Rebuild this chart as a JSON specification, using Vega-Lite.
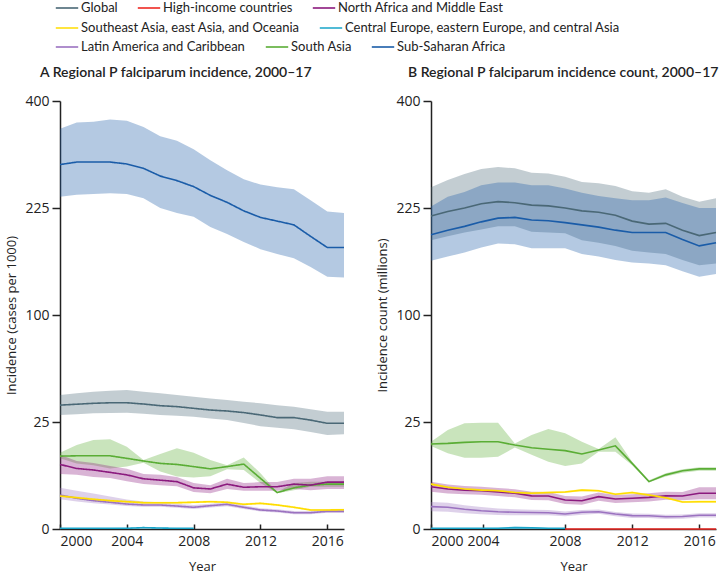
{
  "$schema": "https://vega.github.io/schema/vega-lite/v6.json",
  "padding": {"left": 5, "top": 0, "right": 0, "bottom": 0},
  "background": "white",
  "config": {
    "font": "Open Sans",
    "view": {"stroke": null},
    "axis": {"labelFont": "Open Sans", "titleFont": "Open Sans", "labelFontSize": 14, "titleFontSize": 13, "labelColor": "#222", "titleColor": "#222", "titleFontWeight": "normal", "domainColor": "#222", "tickColor": "#222", "domainWidth": 1.5, "tickWidth": 1.5, "grid": false},
    "legend": {"title": null, "labelFont": "Lato", "labelFontSize": 13, "labelColor": "#222", "symbolType": "M-1.6,0H1.6", "symbolSize": 196, "symbolStrokeWidth": 1.6, "labelLimit": 400, "labelOffset": 6, "columnPadding": 16, "rowPadding": 6, "direction": "horizontal"},
    "title": {"font": "Lato", "fontSize": 14, "fontWeight": 600, "color": "#222", "anchor": "start"}
  },
  "datasets": {
    "rows": [
      {"panel":"A","region":"Sub-Saharan Africa","year":2000,"value":290,"lower":241,"upper":350},
      {"panel":"A","region":"Sub-Saharan Africa","year":2001,"value":294,"lower":244,"upper":361},
      {"panel":"A","region":"Sub-Saharan Africa","year":2002,"value":294,"lower":245,"upper":362},
      {"panel":"A","region":"Sub-Saharan Africa","year":2003,"value":294,"lower":246,"upper":366},
      {"panel":"A","region":"Sub-Saharan Africa","year":2004,"value":291,"lower":245,"upper":364},
      {"panel":"A","region":"Sub-Saharan Africa","year":2005,"value":284,"lower":239,"upper":353},
      {"panel":"A","region":"Sub-Saharan Africa","year":2006,"value":272,"lower":225,"upper":337},
      {"panel":"A","region":"Sub-Saharan Africa","year":2007,"value":265,"lower":218,"upper":329},
      {"panel":"A","region":"Sub-Saharan Africa","year":2008,"value":256,"lower":213,"upper":315},
      {"panel":"A","region":"Sub-Saharan Africa","year":2009,"value":243,"lower":199,"upper":297},
      {"panel":"A","region":"Sub-Saharan Africa","year":2010,"value":233,"lower":190,"upper":281},
      {"panel":"A","region":"Sub-Saharan Africa","year":2011,"value":221,"lower":180,"upper":267},
      {"panel":"A","region":"Sub-Saharan Africa","year":2012,"value":212,"lower":171,"upper":259},
      {"panel":"A","region":"Sub-Saharan Africa","year":2013,"value":207,"lower":165,"upper":255},
      {"panel":"A","region":"Sub-Saharan Africa","year":2014,"value":202,"lower":160,"upper":252},
      {"panel":"A","region":"Sub-Saharan Africa","year":2015,"value":187,"lower":150,"upper":236},
      {"panel":"A","region":"Sub-Saharan Africa","year":2016,"value":173,"lower":139,"upper":220},
      {"panel":"A","region":"Sub-Saharan Africa","year":2017,"value":173,"lower":138,"upper":218},

      {"panel":"A","region":"Global","year":2000,"value":33.5,"lower":28.4,"upper":39.2},
      {"panel":"A","region":"Global","year":2001,"value":34.0,"lower":28.8,"upper":40.2},
      {"panel":"A","region":"Global","year":2002,"value":34.5,"lower":29.2,"upper":41.2},
      {"panel":"A","region":"Global","year":2003,"value":34.8,"lower":29.4,"upper":41.8},
      {"panel":"A","region":"Global","year":2004,"value":34.8,"lower":29.5,"upper":42.2},
      {"panel":"A","region":"Global","year":2005,"value":34.1,"lower":29.0,"upper":41.2},
      {"panel":"A","region":"Global","year":2006,"value":33.2,"lower":28.4,"upper":40.2},
      {"panel":"A","region":"Global","year":2007,"value":32.7,"lower":28.0,"upper":39.2},
      {"panel":"A","region":"Global","year":2008,"value":31.8,"lower":27.5,"upper":38.2},
      {"panel":"A","region":"Global","year":2009,"value":30.9,"lower":26.7,"upper":37.2},
      {"panel":"A","region":"Global","year":2010,"value":30.4,"lower":25.9,"upper":36.3},
      {"panel":"A","region":"Global","year":2011,"value":29.6,"lower":24.5,"upper":35.4},
      {"panel":"A","region":"Global","year":2012,"value":28.4,"lower":23.1,"upper":34.5},
      {"panel":"A","region":"Global","year":2013,"value":27.1,"lower":22.4,"upper":33.5},
      {"panel":"A","region":"Global","year":2014,"value":27.1,"lower":21.7,"upper":32.6},
      {"panel":"A","region":"Global","year":2015,"value":25.9,"lower":20.5,"upper":31.3},
      {"panel":"A","region":"Global","year":2016,"value":24.4,"lower":19.3,"upper":30.0},
      {"panel":"A","region":"Global","year":2017,"value":24.4,"lower":19.6,"upper":30.0},

      {"panel":"A","region":"South Asia","year":2000,"value":11.6,"lower":10.9,"upper":12.7},
      {"panel":"A","region":"South Asia","year":2001,"value":11.7,"lower":9.4,"upper":15.4},
      {"panel":"A","region":"South Asia","year":2002,"value":11.7,"lower":8.9,"upper":17.3},
      {"panel":"A","region":"South Asia","year":2003,"value":11.7,"lower":8.0,"upper":17.6},
      {"panel":"A","region":"South Asia","year":2004,"value":10.9,"lower":8.5,"upper":14.8},
      {"panel":"A","region":"South Asia","year":2005,"value":10.1,"lower":9.6,"upper":10.4},
      {"panel":"A","region":"South Asia","year":2006,"value":9.4,"lower":7.2,"upper":12.3},
      {"panel":"A","region":"South Asia","year":2007,"value":9.1,"lower":6.0,"upper":14.2},
      {"panel":"A","region":"South Asia","year":2008,"value":8.5,"lower":5.8,"upper":12.7},
      {"panel":"A","region":"South Asia","year":2009,"value":7.9,"lower":6.1,"upper":10.4},
      {"panel":"A","region":"South Asia","year":2010,"value":8.5,"lower":7.8,"upper":8.9},
      {"panel":"A","region":"South Asia","year":2011,"value":9.2,"lower":7.6,"upper":11.2},
      {"panel":"A","region":"South Asia","year":2012,"value":5.6,"lower":4.6,"upper":6.8},
      {"panel":"A","region":"South Asia","year":2013,"value":2.9,"lower":2.8,"upper":3.0},
      {"panel":"A","region":"South Asia","year":2014,"value":3.7,"lower":3.3,"upper":4.6},
      {"panel":"A","region":"South Asia","year":2015,"value":4.2,"lower":3.9,"upper":4.9},
      {"panel":"A","region":"South Asia","year":2016,"value":4.4,"lower":3.9,"upper":4.9},
      {"panel":"A","region":"South Asia","year":2017,"value":4.4,"lower":3.9,"upper":4.9},

      {"panel":"A","region":"North Africa and Middle East","year":2000,"value":9.1,"lower":6.6,"upper":12.0},
      {"panel":"A","region":"North Africa and Middle East","year":2001,"value":8.0,"lower":6.4,"upper":10.1},
      {"panel":"A","region":"North Africa and Middle East","year":2002,"value":7.6,"lower":5.9,"upper":9.5},
      {"panel":"A","region":"North Africa and Middle East","year":2003,"value":7.0,"lower":5.7,"upper":8.7},
      {"panel":"A","region":"North Africa and Middle East","year":2004,"value":6.4,"lower":5.0,"upper":7.9},
      {"panel":"A","region":"North Africa and Middle East","year":2005,"value":5.5,"lower":4.4,"upper":6.6},
      {"panel":"A","region":"North Africa and Middle East","year":2006,"value":5.2,"lower":4.2,"upper":6.4},
      {"panel":"A","region":"North Africa and Middle East","year":2007,"value":4.9,"lower":4.0,"upper":5.9},
      {"panel":"A","region":"North Africa and Middle East","year":2008,"value":3.7,"lower":3.0,"upper":4.6},
      {"panel":"A","region":"North Africa and Middle East","year":2009,"value":3.5,"lower":2.8,"upper":4.2},
      {"panel":"A","region":"North Africa and Middle East","year":2010,"value":4.4,"lower":3.5,"upper":5.5},
      {"panel":"A","region":"North Africa and Middle East","year":2011,"value":3.8,"lower":3.2,"upper":4.6},
      {"panel":"A","region":"North Africa and Middle East","year":2012,"value":3.9,"lower":3.2,"upper":4.8},
      {"panel":"A","region":"North Africa and Middle East","year":2013,"value":3.9,"lower":3.2,"upper":4.8},
      {"panel":"A","region":"North Africa and Middle East","year":2014,"value":4.4,"lower":3.5,"upper":5.5},
      {"panel":"A","region":"North Africa and Middle East","year":2015,"value":4.2,"lower":3.3,"upper":5.5},
      {"panel":"A","region":"North Africa and Middle East","year":2016,"value":4.8,"lower":3.5,"upper":6.1},
      {"panel":"A","region":"North Africa and Middle East","year":2017,"value":4.8,"lower":3.5,"upper":6.1},

      {"panel":"A","region":"Latin America and Caribbean","year":2000,"value":2.52,"lower":1.93,"upper":3.70},
      {"panel":"A","region":"Latin America and Caribbean","year":2001,"value":2.06,"lower":1.65,"upper":3.20},
      {"panel":"A","region":"Latin America and Caribbean","year":2002,"value":1.75,"lower":1.45,"upper":2.75},
      {"panel":"A","region":"Latin America and Caribbean","year":2003,"value":1.56,"lower":1.30,"upper":2.30},
      {"panel":"A","region":"Latin America and Caribbean","year":2004,"value":1.36,"lower":1.15,"upper":1.90},
      {"panel":"A","region":"Latin America and Caribbean","year":2005,"value":1.26,"lower":1.08,"upper":1.65},
      {"panel":"A","region":"Latin America and Caribbean","year":2006,"value":1.26,"lower":1.08,"upper":1.55},
      {"panel":"A","region":"Latin America and Caribbean","year":2007,"value":1.15,"lower":0.99,"upper":1.40},
      {"panel":"A","region":"Latin America and Caribbean","year":2008,"value":1.03,"lower":0.88,"upper":1.25},
      {"panel":"A","region":"Latin America and Caribbean","year":2009,"value":1.19,"lower":1.02,"upper":1.40},
      {"panel":"A","region":"Latin America and Caribbean","year":2010,"value":1.33,"lower":1.14,"upper":1.55},
      {"panel":"A","region":"Latin America and Caribbean","year":2011,"value":1.03,"lower":0.88,"upper":1.22},
      {"panel":"A","region":"Latin America and Caribbean","year":2012,"value":0.79,"lower":0.67,"upper":0.95},
      {"panel":"A","region":"Latin America and Caribbean","year":2013,"value":0.71,"lower":0.60,"upper":0.85},
      {"panel":"A","region":"Latin America and Caribbean","year":2014,"value":0.58,"lower":0.48,"upper":0.70},
      {"panel":"A","region":"Latin America and Caribbean","year":2015,"value":0.58,"lower":0.48,"upper":0.70},
      {"panel":"A","region":"Latin America and Caribbean","year":2016,"value":0.68,"lower":0.57,"upper":0.81},
      {"panel":"A","region":"Latin America and Caribbean","year":2017,"value":0.68,"lower":0.57,"upper":0.81},

      {"panel":"A","region":"Southeast Asia, east Asia, and Oceania","year":2000,"value":2.38,"lower":2.22,"upper":2.53},
      {"panel":"A","region":"Southeast Asia, east Asia, and Oceania","year":2001,"value":2.14,"lower":2.00,"upper":2.29},
      {"panel":"A","region":"Southeast Asia, east Asia, and Oceania","year":2002,"value":1.93,"lower":1.80,"upper":2.07},
      {"panel":"A","region":"Southeast Asia, east Asia, and Oceania","year":2003,"value":1.75,"lower":1.62,"upper":1.88},
      {"panel":"A","region":"Southeast Asia, east Asia, and Oceania","year":2004,"value":1.63,"lower":1.51,"upper":1.76},
      {"panel":"A","region":"Southeast Asia, east Asia, and Oceania","year":2005,"value":1.51,"lower":1.39,"upper":1.63},
      {"panel":"A","region":"Southeast Asia, east Asia, and Oceania","year":2006,"value":1.51,"lower":1.39,"upper":1.63},
      {"panel":"A","region":"Southeast Asia, east Asia, and Oceania","year":2007,"value":1.51,"lower":1.39,"upper":1.63},
      {"panel":"A","region":"Southeast Asia, east Asia, and Oceania","year":2008,"value":1.56,"lower":1.44,"upper":1.68},
      {"panel":"A","region":"Southeast Asia, east Asia, and Oceania","year":2009,"value":1.63,"lower":1.51,"upper":1.76},
      {"panel":"A","region":"Southeast Asia, east Asia, and Oceania","year":2010,"value":1.56,"lower":1.44,"upper":1.68},
      {"panel":"A","region":"Southeast Asia, east Asia, and Oceania","year":2011,"value":1.33,"lower":1.22,"upper":1.45},
      {"panel":"A","region":"Southeast Asia, east Asia, and Oceania","year":2012,"value":1.44,"lower":1.32,"upper":1.56},
      {"panel":"A","region":"Southeast Asia, east Asia, and Oceania","year":2013,"value":1.26,"lower":1.15,"upper":1.37},
      {"panel":"A","region":"Southeast Asia, east Asia, and Oceania","year":2014,"value":1.03,"lower":0.93,"upper":1.13},
      {"panel":"A","region":"Southeast Asia, east Asia, and Oceania","year":2015,"value":0.79,"lower":0.70,"upper":0.88},
      {"panel":"A","region":"Southeast Asia, east Asia, and Oceania","year":2016,"value":0.79,"lower":0.70,"upper":0.88},
      {"panel":"A","region":"Southeast Asia, east Asia, and Oceania","year":2017,"value":0.81,"lower":0.72,"upper":0.90},

      {"panel":"A","region":"Central Europe, eastern Europe, and central Asia","year":2000,"value":0.001,"lower":0,"upper":0.002},
      {"panel":"A","region":"Central Europe, eastern Europe, and central Asia","year":2001,"value":0.001,"lower":0,"upper":0.002},
      {"panel":"A","region":"Central Europe, eastern Europe, and central Asia","year":2002,"value":0.001,"lower":0,"upper":0.002},
      {"panel":"A","region":"Central Europe, eastern Europe, and central Asia","year":2003,"value":0.001,"lower":0,"upper":0.002},
      {"panel":"A","region":"Central Europe, eastern Europe, and central Asia","year":2004,"value":0.001,"lower":0,"upper":0.003},
      {"panel":"A","region":"Central Europe, eastern Europe, and central Asia","year":2005,"value":0.004,"lower":0.001,"upper":0.012},
      {"panel":"A","region":"Central Europe, eastern Europe, and central Asia","year":2006,"value":0.002,"lower":0,"upper":0.005},
      {"panel":"A","region":"Central Europe, eastern Europe, and central Asia","year":2007,"value":0.001,"lower":0,"upper":0.002},
      {"panel":"A","region":"Central Europe, eastern Europe, and central Asia","year":2008,"value":0.001,"lower":0,"upper":0.002},

      {"panel":"B","region":"Global","year":2000,"value":214,"lower":182,"upper":255},
      {"panel":"B","region":"Global","year":2001,"value":220,"lower":187,"upper":266},
      {"panel":"B","region":"Global","year":2002,"value":225,"lower":192,"upper":275},
      {"panel":"B","region":"Global","year":2003,"value":231,"lower":196,"upper":283},
      {"panel":"B","region":"Global","year":2004,"value":234,"lower":200,"upper":286},
      {"panel":"B","region":"Global","year":2005,"value":232.5,"lower":200,"upper":284},
      {"panel":"B","region":"Global","year":2006,"value":229,"lower":193,"upper":277},
      {"panel":"B","region":"Global","year":2007,"value":228,"lower":192,"upper":276},
      {"panel":"B","region":"Global","year":2008,"value":225,"lower":191,"upper":271},
      {"panel":"B","region":"Global","year":2009,"value":221,"lower":182,"upper":263},
      {"panel":"B","region":"Global","year":2010,"value":219,"lower":179,"upper":261},
      {"panel":"B","region":"Global","year":2011,"value":215,"lower":175,"upper":257},
      {"panel":"B","region":"Global","year":2012,"value":207,"lower":169,"upper":249},
      {"panel":"B","region":"Global","year":2013,"value":203,"lower":167,"upper":247},
      {"panel":"B","region":"Global","year":2014,"value":204,"lower":165,"upper":252},
      {"panel":"B","region":"Global","year":2015,"value":195,"lower":158,"upper":241},
      {"panel":"B","region":"Global","year":2016,"value":188,"lower":152,"upper":234},
      {"panel":"B","region":"Global","year":2017,"value":192,"lower":154,"upper":239},

      {"panel":"B","region":"Sub-Saharan Africa","year":2000,"value":189,"lower":157,"upper":227},
      {"panel":"B","region":"Sub-Saharan Africa","year":2001,"value":195,"lower":162,"upper":241},
      {"panel":"B","region":"Sub-Saharan Africa","year":2002,"value":200,"lower":167,"upper":248},
      {"panel":"B","region":"Sub-Saharan Africa","year":2003,"value":206,"lower":173,"upper":258},
      {"panel":"B","region":"Sub-Saharan Africa","year":2004,"value":211,"lower":178,"upper":262},
      {"panel":"B","region":"Sub-Saharan Africa","year":2005,"value":212,"lower":177,"upper":262},
      {"panel":"B","region":"Sub-Saharan Africa","year":2006,"value":208.5,"lower":172,"upper":258},
      {"panel":"B","region":"Sub-Saharan Africa","year":2007,"value":207.5,"lower":172,"upper":258},
      {"panel":"B","region":"Sub-Saharan Africa","year":2008,"value":205,"lower":172,"upper":253},
      {"panel":"B","region":"Sub-Saharan Africa","year":2009,"value":202,"lower":165,"upper":247},
      {"panel":"B","region":"Sub-Saharan Africa","year":2010,"value":199,"lower":162,"upper":242},
      {"panel":"B","region":"Sub-Saharan Africa","year":2011,"value":195,"lower":158,"upper":239},
      {"panel":"B","region":"Sub-Saharan Africa","year":2012,"value":192,"lower":155,"upper":236},
      {"panel":"B","region":"Sub-Saharan Africa","year":2013,"value":192,"lower":154,"upper":236},
      {"panel":"B","region":"Sub-Saharan Africa","year":2014,"value":192,"lower":152,"upper":240},
      {"panel":"B","region":"Sub-Saharan Africa","year":2015,"value":183,"lower":145,"upper":232},
      {"panel":"B","region":"Sub-Saharan Africa","year":2016,"value":175,"lower":139,"upper":225},
      {"panel":"B","region":"Sub-Saharan Africa","year":2017,"value":179,"lower":142,"upper":225},

      {"panel":"B","region":"South Asia","year":2000,"value":15.8,"lower":15.0,"upper":16.6},
      {"panel":"B","region":"South Asia","year":2001,"value":16.0,"lower":12.5,"upper":21.4},
      {"panel":"B","region":"South Asia","year":2002,"value":16.4,"lower":11.1,"upper":24.4},
      {"panel":"B","region":"South Asia","year":2003,"value":16.6,"lower":11.1,"upper":24.7},
      {"panel":"B","region":"South Asia","year":2004,"value":16.6,"lower":11.4,"upper":24.7},
      {"panel":"B","region":"South Asia","year":2005,"value":15.4,"lower":14.5,"upper":16.0},
      {"panel":"B","region":"South Asia","year":2006,"value":14.4,"lower":12.0,"upper":19.3},
      {"panel":"B","region":"South Asia","year":2007,"value":13.9,"lower":9.9,"upper":21.8},
      {"panel":"B","region":"South Asia","year":2008,"value":13.4,"lower":8.7,"upper":20.0},
      {"panel":"B","region":"South Asia","year":2009,"value":12.3,"lower":9.4,"upper":16.6},
      {"panel":"B","region":"South Asia","year":2010,"value":13.6,"lower":13.0,"upper":14.0},
      {"panel":"B","region":"South Asia","year":2011,"value":15.1,"lower":13.0,"upper":18.4},
      {"panel":"B","region":"South Asia","year":2012,"value":9.4,"lower":8.9,"upper":9.9},
      {"panel":"B","region":"South Asia","year":2013,"value":4.9,"lower":4.7,"upper":5.2},
      {"panel":"B","region":"South Asia","year":2014,"value":6.4,"lower":6.0,"upper":6.8},
      {"panel":"B","region":"South Asia","year":2015,"value":7.4,"lower":6.9,"upper":7.8},
      {"panel":"B","region":"South Asia","year":2016,"value":7.9,"lower":7.4,"upper":8.3},
      {"panel":"B","region":"South Asia","year":2017,"value":7.9,"lower":7.4,"upper":8.3},

      {"panel":"B","region":"North Africa and Middle East","year":2000,"value":3.9,"lower":3.04,"upper":4.86},
      {"panel":"B","region":"North Africa and Middle East","year":2001,"value":3.5,"lower":2.76,"upper":4.34},
      {"panel":"B","region":"North Africa and Middle East","year":2002,"value":3.3,"lower":2.65,"upper":4.03},
      {"panel":"B","region":"North Africa and Middle East","year":2003,"value":3.2,"lower":2.56,"upper":3.92},
      {"panel":"B","region":"North Africa and Middle East","year":2004,"value":3.0,"lower":2.38,"upper":3.69},
      {"panel":"B","region":"North Africa and Middle East","year":2005,"value":2.8,"lower":2.20,"upper":3.47},
      {"panel":"B","region":"North Africa and Middle East","year":2006,"value":2.4,"lower":1.85,"upper":3.02},
      {"panel":"B","region":"North Africa and Middle East","year":2007,"value":2.38,"lower":1.82,"upper":3.0},
      {"panel":"B","region":"North Africa and Middle East","year":2008,"value":1.84,"lower":1.36,"upper":2.39},
      {"panel":"B","region":"North Africa and Middle East","year":2009,"value":1.75,"lower":1.28,"upper":2.29},
      {"panel":"B","region":"North Africa and Middle East","year":2010,"value":2.28,"lower":1.74,"upper":2.89},
      {"panel":"B","region":"North Africa and Middle East","year":2011,"value":1.97,"lower":1.47,"upper":2.54},
      {"panel":"B","region":"North Africa and Middle East","year":2012,"value":2.06,"lower":1.55,"upper":2.64},
      {"panel":"B","region":"North Africa and Middle East","year":2013,"value":2.19,"lower":1.66,"upper":2.79},
      {"panel":"B","region":"North Africa and Middle East","year":2014,"value":2.42,"lower":1.87,"upper":3.05},
      {"panel":"B","region":"North Africa and Middle East","year":2015,"value":2.38,"lower":1.82,"upper":3.0},
      {"panel":"B","region":"North Africa and Middle East","year":2016,"value":2.78,"lower":1.92,"upper":3.79},
      {"panel":"B","region":"North Africa and Middle East","year":2017,"value":2.78,"lower":1.92,"upper":3.79},

      {"panel":"B","region":"Southeast Asia, east Asia, and Oceania","year":2000,"value":4.4,"lower":4.19,"upper":4.61},
      {"panel":"B","region":"Southeast Asia, east Asia, and Oceania","year":2001,"value":3.8,"lower":3.61,"upper":4.00},
      {"panel":"B","region":"Southeast Asia, east Asia, and Oceania","year":2002,"value":3.5,"lower":3.32,"upper":3.69},
      {"panel":"B","region":"Southeast Asia, east Asia, and Oceania","year":2003,"value":3.3,"lower":3.12,"upper":3.48},
      {"panel":"B","region":"Southeast Asia, east Asia, and Oceania","year":2004,"value":3.2,"lower":3.03,"upper":3.38},
      {"panel":"B","region":"Southeast Asia, east Asia, and Oceania","year":2005,"value":2.9,"lower":2.73,"upper":3.07},
      {"panel":"B","region":"Southeast Asia, east Asia, and Oceania","year":2006,"value":2.8,"lower":2.64,"upper":2.97},
      {"panel":"B","region":"Southeast Asia, east Asia, and Oceania","year":2007,"value":2.9,"lower":2.73,"upper":3.07},
      {"panel":"B","region":"Southeast Asia, east Asia, and Oceania","year":2008,"value":3.0,"lower":2.83,"upper":3.17},
      {"panel":"B","region":"Southeast Asia, east Asia, and Oceania","year":2009,"value":3.3,"lower":3.12,"upper":3.48},
      {"panel":"B","region":"Southeast Asia, east Asia, and Oceania","year":2010,"value":3.2,"lower":3.03,"upper":3.38},
      {"panel":"B","region":"Southeast Asia, east Asia, and Oceania","year":2011,"value":2.63,"lower":2.47,"upper":2.79},
      {"panel":"B","region":"Southeast Asia, east Asia, and Oceania","year":2012,"value":2.9,"lower":2.73,"upper":3.07},
      {"panel":"B","region":"Southeast Asia, east Asia, and Oceania","year":2013,"value":2.52,"lower":2.36,"upper":2.68},
      {"panel":"B","region":"Southeast Asia, east Asia, and Oceania","year":2014,"value":2.14,"lower":2.00,"upper":2.29},
      {"panel":"B","region":"Southeast Asia, east Asia, and Oceania","year":2015,"value":1.59,"lower":1.47,"upper":1.72},
      {"panel":"B","region":"Southeast Asia, east Asia, and Oceania","year":2016,"value":1.63,"lower":1.50,"upper":1.76},
      {"panel":"B","region":"Southeast Asia, east Asia, and Oceania","year":2017,"value":1.63,"lower":1.50,"upper":1.76},

      {"panel":"B","region":"Latin America and Caribbean","year":2000,"value":1.09,"lower":0.68,"upper":1.60},
      {"panel":"B","region":"Latin America and Caribbean","year":2001,"value":1.03,"lower":0.65,"upper":1.50},
      {"panel":"B","region":"Latin America and Caribbean","year":2002,"value":0.85,"lower":0.54,"upper":1.24},
      {"panel":"B","region":"Latin America and Caribbean","year":2003,"value":0.73,"lower":0.47,"upper":1.05},
      {"panel":"B","region":"Latin America and Caribbean","year":2004,"value":0.65,"lower":0.43,"upper":0.91},
      {"panel":"B","region":"Latin America and Caribbean","year":2005,"value":0.61,"lower":0.41,"upper":0.85},
      {"panel":"B","region":"Latin America and Caribbean","year":2006,"value":0.59,"lower":0.41,"upper":0.81},
      {"panel":"B","region":"Latin America and Caribbean","year":2007,"value":0.58,"lower":0.41,"upper":0.78},
      {"panel":"B","region":"Latin America and Caribbean","year":2008,"value":0.49,"lower":0.35,"upper":0.66},
      {"panel":"B","region":"Latin America and Caribbean","year":2009,"value":0.61,"lower":0.45,"upper":0.79},
      {"panel":"B","region":"Latin America and Caribbean","year":2010,"value":0.65,"lower":0.50,"upper":0.82},
      {"panel":"B","region":"Latin America and Caribbean","year":2011,"value":0.49,"lower":0.36,"upper":0.64},
      {"panel":"B","region":"Latin America and Caribbean","year":2012,"value":0.39,"lower":0.27,"upper":0.52},
      {"panel":"B","region":"Latin America and Caribbean","year":2013,"value":0.38,"lower":0.27,"upper":0.51},
      {"panel":"B","region":"Latin America and Caribbean","year":2014,"value":0.33,"lower":0.22,"upper":0.45},
      {"panel":"B","region":"Latin America and Caribbean","year":2015,"value":0.34,"lower":0.23,"upper":0.46},
      {"panel":"B","region":"Latin America and Caribbean","year":2016,"value":0.41,"lower":0.29,"upper":0.55},
      {"panel":"B","region":"Latin America and Caribbean","year":2017,"value":0.41,"lower":0.29,"upper":0.55},

      {"panel":"B","region":"Central Europe, eastern Europe, and central Asia","year":2000,"value":0.001,"lower":0,"upper":0.002},
      {"panel":"B","region":"Central Europe, eastern Europe, and central Asia","year":2001,"value":0.001,"lower":0,"upper":0.002},
      {"panel":"B","region":"Central Europe, eastern Europe, and central Asia","year":2002,"value":0.001,"lower":0,"upper":0.002},
      {"panel":"B","region":"Central Europe, eastern Europe, and central Asia","year":2003,"value":0.001,"lower":0,"upper":0.002},
      {"panel":"B","region":"Central Europe, eastern Europe, and central Asia","year":2004,"value":0.001,"lower":0,"upper":0.003},
      {"panel":"B","region":"Central Europe, eastern Europe, and central Asia","year":2005,"value":0.004,"lower":0.001,"upper":0.010},
      {"panel":"B","region":"Central Europe, eastern Europe, and central Asia","year":2006,"value":0.003,"lower":0.001,"upper":0.008},
      {"panel":"B","region":"Central Europe, eastern Europe, and central Asia","year":2007,"value":0.001,"lower":0,"upper":0.002},
      {"panel":"B","region":"Central Europe, eastern Europe, and central Asia","year":2008,"value":0.001,"lower":0,"upper":0.002},

      {"panel":"B","region":"High-income countries","year":2008,"value":0,"lower":0,"upper":0},
      {"panel":"B","region":"High-income countries","year":2010,"value":0,"lower":0,"upper":0},
      {"panel":"B","region":"High-income countries","year":2012,"value":0,"lower":0,"upper":0},
      {"panel":"B","region":"High-income countries","year":2014,"value":0,"lower":0,"upper":0},
      {"panel":"B","region":"High-income countries","year":2016,"value":0,"lower":0,"upper":0},
      {"panel":"B","region":"High-income countries","year":2017,"value":0,"lower":0,"upper":0}
    ]
  },
  "data": {"name": "rows"},
  "spacing": 28,
  "resolve": {"scale": {"color": "shared", "fill": "shared", "strokeDash": "shared"}, "legend": {"color": "shared", "fill": "shared", "strokeDash": "shared"}},
  "hconcat": [
    {
      "width": 284,
      "height": 428,
      "title": {"text": "A  Regional P falciparum incidence, 2000–17", "frame": "group", "dx": -20, "offset": 14},
      "transform": [{"filter": "datum.panel === 'A'"}],
      "layer": [
        {
          "mark": {"type": "area", "fillOpacity": 0.33, "strokeWidth": 0},
          "encoding": {
            "x": {"field": "year", "type": "quantitative", "scale": {"domain": [2000, 2017], "nice": false},
                  "axis": {"title": "Year", "values": [2000, 2004, 2008, 2012, 2016], "format": "d", "ticks": true, "tickSize": -5, "labelPadding": 10, "titlePadding": 12}},
            "y": {"field": "lower", "type": "quantitative", "scale": {"type": "sqrt", "domain": [0, 400], "nice": false},
                  "axis": {"title": "Incidence (cases per 1000)", "values": [0, 25, 100, 225, 400], "tickSize": 8, "labelPadding": 3, "titlePadding": 6}},
            "y2": {"field": "upper"},
            "fill": {"field": "region", "type": "nominal",
                     "scale": {"domain": ["Sub-Saharan Africa", "South Asia", "Latin America and Caribbean", "Central Europe, eastern Europe, and central Asia", "Southeast Asia, east Asia, and Oceania", "North Africa and Middle East", "High-income countries", "Global"],
                               "range": ["#1a5ca8", "#5aad35", "#9b72c0", "#19a5c9", "#ffdd00", "#8b1a7e", "#ee2a24", "#4a6876"]},
                     "legend": {"orient": "none", "legendX": -1, "legendY": -62,
                                "values": ["Latin America and Caribbean", "South Asia", "Sub-Saharan Africa"],
                                "encode": {"symbols": {"update": {"stroke": {"scale": "fill", "field": "value"}, "strokeWidth": {"value": 1.6}, "opacity": {"value": 1}, "strokeOpacity": {"value": 1}, "fillOpacity": {"value": 0}}}}}}
          }
        },
        {
          "mark": {"type": "line", "strokeWidth": 1.6},
          "encoding": {
            "x": {"field": "year", "type": "quantitative"},
            "y": {"field": "value", "type": "quantitative"},
            "color": {"field": "region", "type": "nominal",
                      "scale": {"domain": ["Global", "High-income countries", "North Africa and Middle East", "Southeast Asia, east Asia, and Oceania", "Central Europe, eastern Europe, and central Asia", "Latin America and Caribbean", "South Asia", "Sub-Saharan Africa"],
                                "range": ["#4a6876", "#ee2a24", "#8b1a7e", "#ffdd00", "#19a5c9", "#9b72c0", "#5aad35", "#1a5ca8"]},
                      "legend": {"orient": "none", "legendX": -1, "legendY": -101,
                                 "values": ["Global", "High-income countries", "North Africa and Middle East"]}},
            "strokeDash": {"field": "region", "type": "nominal",
                           "scale": {"domain": ["Central Europe, eastern Europe, and central Asia", "Southeast Asia, east Asia, and Oceania", "Global", "High-income countries", "North Africa and Middle East", "Latin America and Caribbean", "South Asia", "Sub-Saharan Africa"],
                                     "range": [[1, 0], [1, 0], [1, 0], [1, 0], [1, 0], [1, 0], [1, 0], [1, 0]]},
                           "legend": {"orient": "none", "legendX": -1, "legendY": -81,
                                      "values": ["Southeast Asia, east Asia, and Oceania", "Central Europe, eastern Europe, and central Asia"],
                                      "encode": {"symbols": {"update": {"stroke": {"scale": "color", "field": "value"}, "strokeWidth": {"value": 1.6}, "strokeDash": {"value": [1, 0]}, "opacity": {"value": 1}, "strokeOpacity": {"value": 1}}}}}}
          }
        }
      ]
    },
    {
      "width": 285,
      "height": 428,
      "title": {"text": "B  Regional P falciparum incidence count, 2000–17", "frame": "group", "dx": -23, "offset": 14},
      "transform": [{"filter": "datum.panel === 'B'"}],
      "layer": [
        {
          "mark": {"type": "area", "fillOpacity": 0.33, "strokeWidth": 0},
          "encoding": {
            "x": {"field": "year", "type": "quantitative", "scale": {"domain": [2000, 2017], "nice": false},
                  "axis": {"title": "Year", "values": [2000, 2003.1, 2008, 2012, 2016], "labelExpr": "datum.value > 2002 && datum.value < 2005 ? '2004' : format(datum.value, 'd')", "ticks": true, "tickSize": -5, "labelPadding": 10, "titlePadding": 12}},
            "y": {"field": "lower", "type": "quantitative", "scale": {"type": "sqrt", "domain": [0, 400], "nice": false},
                  "axis": {"title": "Incidence count (millions)", "values": [0, 25, 100, 225, 400], "tickSize": 8, "labelPadding": 3, "titlePadding": 6}},
            "y2": {"field": "upper"},
            "fill": {"field": "region", "type": "nominal"}
          }
        },
        {
          "mark": {"type": "line", "strokeWidth": 1.6},
          "encoding": {
            "x": {"field": "year", "type": "quantitative"},
            "y": {"field": "value", "type": "quantitative"},
            "color": {"field": "region", "type": "nominal"}
          }
        }
      ]
    }
  ]
}
